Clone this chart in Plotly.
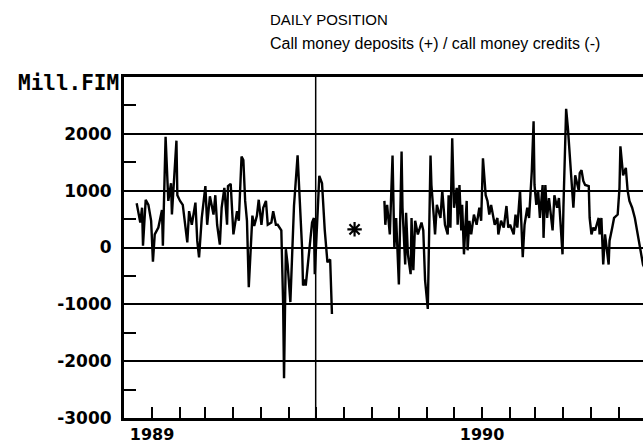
import plotly.graph_objects as go

# ---- data (Mill. FIM, daily position) ----
seg1_dates = [
    "1988-12-15", "1988-12-19", "1988-12-21", "1988-12-22", "1988-12-25", "1988-12-28", "1988-12-31",
    "1989-01-02", "1989-01-04", "1989-01-08", "1989-01-12", "1989-01-13", "1989-01-16", "1989-01-19",
    "1989-01-22", "1989-01-23", "1989-01-28", "1989-01-29", "1989-02-01", "1989-02-04", "1989-02-09",
    "1989-02-11", "1989-02-14", "1989-02-18", "1989-02-20", "1989-02-22", "1989-02-25", "1989-03-01",
    "1989-03-03", "1989-03-06", "1989-03-10", "1989-03-12", "1989-03-14", "1989-03-17", "1989-03-19",
    "1989-03-22", "1989-03-25", "1989-03-26", "1989-03-29", "1989-04-01", "1989-04-05", "1989-04-07",
    "1989-04-10", "1989-04-12", "1989-04-14", "1989-04-16", "1989-04-18", "1989-04-22", "1989-04-24",
    "1989-04-27", "1989-04-29", "1989-05-02", "1989-05-04", "1989-05-07", "1989-05-09", "1989-05-13",
    "1989-05-15", "1989-05-18", "1989-05-20", "1989-05-24", "1989-05-26", "1989-05-27", "1989-05-29",
    "1989-05-31", "1989-06-03", "1989-06-05", "1989-06-07", "1989-06-11", "1989-06-13", "1989-06-16",
    "1989-06-17", "1989-06-19", "1989-06-20", "1989-06-23", "1989-06-25", "1989-06-27", "1989-06-29",
    "1989-06-30", "1989-07-05", "1989-07-08", "1989-07-11", "1989-07-14", "1989-07-17", "1989-07-18",
    "1989-07-19",
]
seg1_values = [
    780, 440, 700, 30, 840, 750, 470,
    -250, 230, 350, 660, 30, 1950, 820,
    1130, 580, 1880, 920, 820, 750, 90,
    640, 400, 790, 120, -175, 520, 1080,
    400, 900, 580, 920, 400, 50, 700,
    1050, 400, 1080, 1120, 230, 640, 470,
    1600, 1540, 820, 470, -700, 560, 380,
    560, 840, 400, 700, 820, 400, 440,
    640, 400, 400, 300, -1000, -2300, -30,
    -300, -960, -30, 730, 1620, 1010, -30,
    -670, -560, -670, -140, 210, 440, 520,
    -470, 1260, 1130, 310, -260, -210, -730,
    -1170,
]

seg2_dates = [
    "1989-09-15", "1989-09-16", "1989-09-18", "1989-09-21", "1989-09-24", "1989-09-26", "1989-09-28",
    "1989-10-01", "1989-10-04", "1989-10-05", "1989-10-08", "1989-10-09", "1989-10-11", "1989-10-14",
    "1989-10-15", "1989-10-17", "1989-10-19", "1989-10-22", "1989-10-26", "1989-10-28", "1989-10-30",
    "1989-11-02", "1989-11-05", "1989-11-06", "1989-11-09", "1989-11-10", "1989-11-12", "1989-11-16",
    "1989-11-18", "1989-11-21", "1989-11-24", "1989-11-25", "1989-11-27", "1989-11-29", "1989-12-01",
    "1989-12-04", "1989-12-05", "1989-12-07", "1989-12-09", "1989-12-10", "1989-12-12", "1989-12-15",
    "1989-12-16", "1989-12-18", "1989-12-20", "1989-12-23", "1989-12-26", "1989-12-29", "1989-12-31",
    "1990-01-02", "1990-01-05", "1990-01-07", "1990-01-09", "1990-01-11", "1990-01-15", "1990-01-18",
    "1990-01-19", "1990-01-22", "1990-01-25", "1990-01-28", "1990-01-30", "1990-02-01", "1990-02-05",
    "1990-02-07", "1990-02-09", "1990-02-12", "1990-02-15", "1990-02-17", "1990-02-20", "1990-02-22",
    "1990-02-25", "1990-02-27", "1990-02-28", "1990-03-02", "1990-03-04", "1990-03-06", "1990-03-09",
    "1990-03-10", "1990-03-12", "1990-03-14", "1990-03-16", "1990-03-20", "1990-03-22", "1990-03-25",
    "1990-03-27", "1990-03-31", "1990-04-01", "1990-04-04", "1990-04-06", "1990-04-10", "1990-04-12",
    "1990-04-14", "1990-04-16", "1990-04-18", "1990-04-19", "1990-04-21", "1990-04-23", "1990-04-25",
    "1990-04-29", "1990-04-30", "1990-05-02", "1990-05-04", "1990-05-06", "1990-05-10", "1990-05-11",
    "1990-05-13", "1990-05-15", "1990-05-17", "1990-05-21", "1990-05-22", "1990-05-25", "1990-05-27",
    "1990-05-31", "1990-06-02", "1990-06-03", "1990-06-06", "1990-06-09", "1990-06-11", "1990-06-13",
    "1990-06-16", "1990-06-19", "1990-06-23", "1990-06-28", "1990-07-02",
]
seg2_values = [
    820, 400, 750, 230, 1620, 0, 520,
    -650, 1690, 700, -300, 610, -120, -470,
    520, -400, 470, 230, 440, 300, -580,
    -1080, 1620, 1100, 470, 230, 750, 520,
    1000, 400, 230, 920, 350, 1920, 700,
    1050, 400, 1100, 300, 750, -120, 820,
    -50, 470, 230, 580, 400, 700, 470,
    1570, 920, 820, 580, 750, 400, 520,
    230, 470, 350, 730, 350, 400, 230,
    580, 350, 1000, -170, 400, 700, 520,
    1340, 2220, 1100, 750, 1000, 520, 1100,
    170, 1100, 520, 870, 300, 920, 700,
    870, -120, 700, 2440, 2090, 1270, 700,
    1270, 1100, 1000, 1310, 1360, 1170, 1100,
    1080, 520, 230, 350, 300, 520, 230,
    520, -300, 230, -300, 120, 350, 520,
    580, 1050, 1780, 1270, 1400, 1000, 820,
    700, 520, 170, -300, -450,
]

gap_dates = ["1989-08-13"]
gap_values = [320]

month_ticks = [
    "1989-01-01", "1989-02-01", "1989-03-01", "1989-04-01", "1989-05-01", "1989-06-01",
    "1989-07-01", "1989-08-01", "1989-09-01", "1989-10-01", "1989-11-01", "1989-12-01",
    "1990-01-01", "1990-02-01", "1990-03-01", "1990-04-01", "1990-05-01", "1990-06-01",
]
month_labels = ["1989"] + [""] * 11 + ["1990"] + [""] * 5

y_ticks = [-3000, -2000, -1000, 0, 1000, 2000]
y_labels = ["-3000", "-2000", "-1000", "0", "1000", "2000"]
y_minor = [-2500, -1500, -500, 500, 1500, 2500]

divider_date = "1989-07-01"
x_range = ["1988-12-01", "1990-06-28"]

fig = go.Figure()
fig.add_trace(go.Scatter(x=seg1_dates, y=seg1_values, mode="lines",
                         line=dict(color="black", width=2.4), showlegend=False, hoverinfo="skip"))
fig.add_trace(go.Scatter(x=seg2_dates, y=seg2_values, mode="lines",
                         line=dict(color="black", width=2.4), showlegend=False, hoverinfo="skip"))
fig.add_trace(go.Scatter(x=gap_dates, y=gap_values, mode="markers",
                         marker=dict(symbol="asterisk-open", size=12, color="black",
                                     line=dict(color="black", width=2.2)),
                         showlegend=False, hoverinfo="skip"))

fig.add_shape(type="line", xref="x", yref="paper", x0=divider_date, x1=divider_date,
              y0=0, y1=1, line=dict(color="black", width=1.5))

fig.update_layout(
    width=643, height=444,
    margin=dict(l=124, r=0, t=77, b=22),
    paper_bgcolor="white", plot_bgcolor="white",
    font=dict(family="Liberation Sans", color="black"),
    xaxis=dict(
        type="date", range=x_range,
        tickmode="array", tickvals=month_ticks, ticktext=month_labels,
        ticks="inside", ticklen=11, tickwidth=2, tickcolor="black",
        showline=True, linecolor="black", linewidth=3, mirror=True,
        showgrid=False, zeroline=False,
        tickfont=dict(family="DejaVu Sans", size=16, weight="bold", color="black"),
        ticklabelstandoff=0,
    ),
    yaxis=dict(
        range=[-3000, 3000],
        tickmode="array", tickvals=y_ticks, ticktext=y_labels,
        ticks="inside", ticklen=0, tickcolor="black",
        showline=True, linecolor="black", linewidth=3,
        showgrid=True, gridcolor="black", gridwidth=2,
        zeroline=True, zerolinecolor="black", zerolinewidth=2,
        minor=dict(tickmode="array", tickvals=y_minor, ticks="inside",
                   ticklen=12, tickwidth=2, tickcolor="black", showgrid=False),
        tickfont=dict(family="DejaVu Sans", size=17, weight="bold", color="black"),
        ticklabelstandoff=6,
    ),
    annotations=[
        dict(text="DAILY POSITION", xref="paper", yref="paper",
             x=(268 - 124) / 519, y=1.17, xanchor="left", yanchor="middle",
             showarrow=False, font=dict(family="Liberation Sans", size=15, color="black")),
        dict(text="Call money deposits (+) / call money credits (-)", xref="paper", yref="paper",
             x=(268 - 124) / 519, y=1.097, xanchor="left", yanchor="middle",
             showarrow=False, font=dict(family="Liberation Sans", size=16, color="black")),
        dict(text="Mill.FIM", xref="paper", yref="paper", x=0, y=1,
             xanchor="right", yanchor="middle", xshift=-3, yshift=-6,
             showarrow=False, font=dict(family="DejaVu Sans Mono", size=21, weight="bold", color="black")),
    ],
)

fig.write_html(
    "out.html",
    config={"displayModeBar": False},
    post_script="document.body.style.margin='0px';document.body.style.overflow='hidden';",
)
